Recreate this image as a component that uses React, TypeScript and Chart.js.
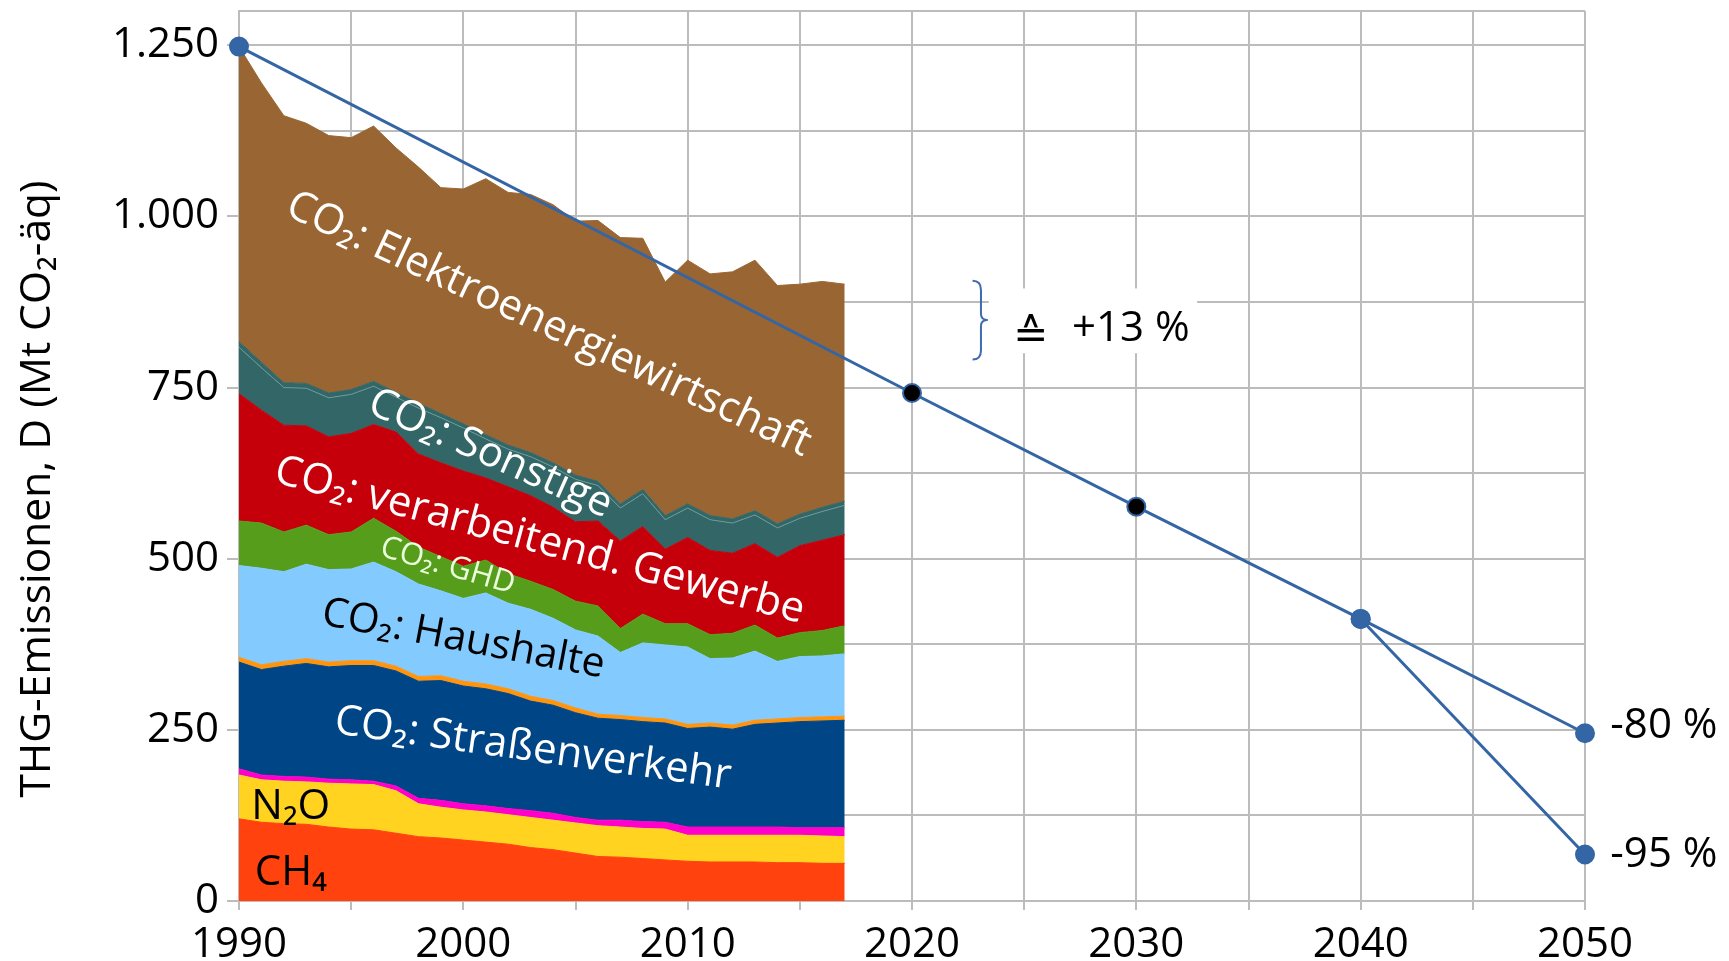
import React, { useEffect, useRef } from 'react';
import { Chart, registerables } from 'chart.js';

Chart.register(...registerables);

// ---------- data (Mt CO2-äq) ----------
const years = [1990, 1991, 1992, 1993, 1994, 1995, 1996, 1997, 1998, 1999, 2000, 2001, 2002, 2003,
  2004, 2005, 2006, 2007, 2008, 2009, 2010, 2011, 2012, 2013, 2014, 2015, 2016, 2017];

const ch4 = [120, 115, 113, 112, 108, 105, 104, 99, 94, 92, 89, 86, 83, 78, 75, 70, 65, 64, 62, 60, 58, 57, 57, 57, 56, 56, 55, 55];
const n2o = [64, 62, 62, 62, 64, 66, 66, 62, 48, 45, 44, 44, 43, 44, 43, 44, 45, 44, 44, 45, 38, 39, 39, 39, 40, 40, 40, 39];
const fGases = [9, 7, 7, 7, 6, 6, 5, 7, 8, 10, 9, 9, 9, 10, 10, 8, 8, 10, 10, 10, 12, 12, 12, 12, 12, 11, 12, 13];
const roadTransport = [156, 154, 161, 166, 164, 167, 169, 168, 171, 175, 172, 171, 168, 160, 158, 153, 149, 147, 146, 145, 144, 146, 143, 150, 152, 155, 156, 157];
const otherTransport = [7, 7, 7, 7, 7, 7, 7, 7, 7, 7, 7, 7, 7, 7, 7, 7, 6, 6, 6, 6, 6, 6, 6, 6, 6, 6, 6, 6];
const households = [134, 141, 131, 138, 135, 134, 144, 138, 135, 124, 121, 133, 125, 127, 120, 114, 114, 92, 109, 108, 113, 94, 98, 101, 84, 89, 89, 91];
const commerce = [65, 66, 58, 57, 51, 54, 64, 59, 54, 50, 47, 48, 43, 41, 42, 42, 44, 35, 42, 31, 34, 35, 36, 38, 34, 35, 37, 41];
const industry = [186, 165, 156, 145, 143, 144, 137, 145, 136, 137, 139, 120, 127, 125, 120, 116, 124, 128, 128, 109, 126, 123, 117, 119, 118, 127, 132, 133];
const otherMain = [68, 62, 55, 55, 57, 57, 56, 51, 67, 66, 63, 57, 55, 57, 59, 62, 52, 48, 48, 43, 43, 45, 44, 42, 43, 40, 42, 43];
const otherThin = [8, 8, 7, 7, 7, 7, 7, 7, 7, 6, 6, 6, 6, 6, 6, 6, 6, 6, 6, 6, 6, 6, 6, 6, 6, 6, 6, 6];
const electricity = [431, 408, 390, 380, 376, 368, 373, 357, 345, 330, 343, 374, 369, 377, 377, 371, 381, 389, 367, 341, 356, 353, 361, 366, 348, 336, 330, 317];

const targetYears = [1990, 2020, 2030, 2040, 2050];
const targetValues = [1248, 742, 576, 412, 245];
const targetPointFill = ['#3465A4', '#000000', '#000000', '#3465A4', '#3465A4'];
const branchYears = [2040, 2050];
const branchValues = [412, 68];

const xTickValues = [1990, 1995, 2000, 2005, 2010, 2015, 2020, 2025, 2030, 2035, 2040, 2045, 2050];
const yTickValues = [0, 125, 250, 375, 500, 625, 750, 875, 1000, 1125, 1250, 1300];

const FONT = '"Open Sans", "DejaVu Sans", sans-serif';
const GRID = '#bcbcbc';

// label anchors in data coordinates
const areaLabels = [
  { text: 'CO₂: Elektroenergiewirtschaft', x: 2003.8, y: 842, angle: 25, color: '#ffffff', size: 42 },
  { text: 'CO₂: Sonstige', x: 2001.2, y: 653, angle: 24, color: '#ffffff', size: 42 },
  { text: 'CO₂: verarbeitend. Gewerbe', x: 2003.4, y: 526, angle: 15, color: '#ffffff', size: 42 },
  { text: 'CO₂: GHD', x: 1999.3, y: 489, angle: 16, color: '#eaffdc', size: 31 },
  { text: 'CO₂: Haushalte', x: 2000.0, y: 382, angle: 10.7, color: '#000000', size: 41 },
  { text: 'CO₂: Straßenverkehr', x: 2003.1, y: 222, angle: 8, color: '#ffffff', size: 42 },
];
const plainLabels = [
  { text: 'N₂O', x: 1990.55, y: 120, size: 42 },
  { text: 'CH₄', x: 1990.7, y: 23, size: 42 },
  { text: '-80 %', x: 2051.13, y: 238.7, size: 42 },
  { text: '-95 %', x: 2051.13, y: 49.5, size: 42 },
  { text: '+13 %', x: 2027.13, y: 818.6, size: 42 },
];
const annotBox = { x0: 2023.42, x1: 2032.71, y0: 800.2, y1: 894.8 };
const brace = { x0: 2022.7, x1: 2023.38, y0: 791, y1: 906 };
const equivSign = { text: '≙', x: 2025.29, y: 808, size: 42 };
const yTitle = 'THG-Emissionen, D (Mt CO₂-äq)';

function fmtDe(v: number): string {
  if (v >= 1000) return `${Math.floor(v / 1000)}.${String(v % 1000).padStart(3, '0')}`;
  return String(v);
}

const overlay = {
  id: 'overlay',
  afterDraw(chart: any) {
    const { ctx } = chart;
    const xs = chart.scales.x;
    const ys = chart.scales.y;
    const px = (v: number) => xs.getPixelForValue(v);
    const py = (v: number) => ys.getPixelForValue(v);
    ctx.save();
    for (const l of areaLabels) {
      ctx.save();
      ctx.translate(px(l.x), py(l.y));
      ctx.rotate((l.angle * Math.PI) / 180);
      ctx.font = `${l.size}px ${FONT}`;
      ctx.fillStyle = l.color;
      ctx.textAlign = 'center';
      ctx.textBaseline = 'middle';
      ctx.fillText(l.text, 0, 0);
      ctx.restore();
    }
    // annotation background
    ctx.fillStyle = '#ffffff';
    const bx0 = px(annotBox.x0), bx1 = px(annotBox.x1);
    const by0 = py(annotBox.y1), by1 = py(annotBox.y0);
    ctx.fillRect(bx0, by0, bx1 - bx0, by1 - by0);
    // brace
    const xL = px(brace.x0), xR = px(brace.x1);
    const yT = py(brace.y1), yB = py(brace.y0);
    const yM = (yT + yB) / 2;
    const xm = xL + (xR - xL) * 0.55;
    ctx.beginPath();
    ctx.moveTo(xL, yT);
    ctx.quadraticCurveTo(xm, yT, xm, yT + 9);
    ctx.lineTo(xm, yM - 6);
    ctx.quadraticCurveTo(xm, yM, xR, yM);
    ctx.quadraticCurveTo(xm, yM, xm, yM + 6);
    ctx.lineTo(xm, yB - 9);
    ctx.quadraticCurveTo(xm, yB, xL, yB);
    ctx.strokeStyle = '#3d6cb0';
    ctx.lineWidth = 2;
    ctx.stroke();
    // plain labels
    ctx.fillStyle = '#000000';
    ctx.textAlign = 'left';
    ctx.textBaseline = 'alphabetic';
    for (const l of plainLabels) {
      ctx.font = `${l.size}px ${FONT}`;
      ctx.fillText(l.text, px(l.x), py(l.y));
    }
    ctx.textAlign = 'center';
    ctx.font = `${equivSign.size}px ${FONT}`;
    ctx.fillText(equivSign.text, px(equivSign.x), py(equivSign.y));
    // y-axis title
    ctx.save();
    ctx.translate(50, 489);
    ctx.rotate(-Math.PI / 2);
    ctx.font = `42.5px ${FONT}`;
    ctx.textAlign = 'center';
    ctx.textBaseline = 'alphabetic';
    ctx.fillStyle = '#000000';
    ctx.fillText(yTitle, 0, 0);
    ctx.restore();
    ctx.restore();
  },
};

export default function App() {
  const ref = useRef<HTMLCanvasElement>(null);
  useEffect(() => {
    const canvas = ref.current;
    if (!canvas) return;
    const area = (label: string, values: number[], color: string, extra: any = {}) => ({
      label,
      data: years.map((x, i) => ({ x, y: values[i] })),
      backgroundColor: color,
      borderColor: color,
      borderWidth: 1,
      pointRadius: 0,
      fill: '-1',
      stack: 'emissions',
      order: 1,
      tension: 0,
      ...extra,
    });
    const datasets: any[] = [
      area('CH4', ch4, '#FF420E', { fill: 'origin' }),
      area('N2O', n2o, '#FFD320'),
      area('F-Gase', fGases, '#FF00CC'),
      area('CO2: Straßenverkehr', roadTransport, '#004586'),
      area('CO2: sonstiger Verkehr', otherTransport, '#FF950E'),
      area('CO2: Haushalte', households, '#83CAFF'),
      area('CO2: GHD', commerce, '#579D1C'),
      area('CO2: verarbeitend. Gewerbe', industry, '#C5000B'),
      area('CO2: Sonstige', otherMain, '#336666', { borderColor: '#6a9797' }),
      area('CO2: Sonstige (Rest)', otherThin, '#336666'),
      area('CO2: Elektroenergiewirtschaft', electricity, '#996633'),
      {
        label: 'Ziel -80 %',
        data: targetYears.map((x, i) => ({ x, y: targetValues[i] })),
        stack: 'target',
        order: 0,
        fill: false,
        borderColor: '#3465A4',
        borderWidth: 3,
        tension: 0,
        pointRadius: 9,
        pointBorderWidth: 2,
        pointBorderColor: '#3465A4',
        pointBackgroundColor: targetPointFill,
        clip: false,
      },
      {
        label: 'Ziel -95 %',
        data: branchYears.map((x, i) => ({ x, y: branchValues[i] })),
        stack: 'branch',
        order: 0,
        fill: false,
        borderColor: '#3465A4',
        borderWidth: 3,
        tension: 0,
        pointRadius: 9,
        pointBorderWidth: 2,
        pointBorderColor: '#3465A4',
        pointBackgroundColor: '#3465A4',
        clip: false,
      },
    ];
    const chart = new Chart(canvas, {
      type: 'line',
      data: { datasets },
      options: {
        responsive: false,
        animation: false,
        devicePixelRatio: 1,
        layout: { padding: { top: 8, right: 144, left: 0, bottom: 0 } },
        plugins: { legend: { display: false }, tooltip: { enabled: false } },
        scales: {
          x: {
            type: 'linear',
            min: 1990,
            max: 2050,
            afterBuildTicks: (s: any) => { s.ticks = xTickValues.map((v) => ({ value: v })); },
            afterFit: (s: any) => { s.height = 60; s.paddingLeft = 0; s.paddingRight = 0; },
            grid: { color: GRID, lineWidth: 2, tickLength: 9, tickColor: GRID, drawTicks: true },
            border: { color: GRID, width: 2 },
            ticks: {
              autoSkip: false,
              maxRotation: 0,
              padding: 10,
              color: '#000',
              font: { family: FONT, size: 42 },
              callback: (v: any) => (Number(v) % 10 === 0 ? String(v) : ''),
            },
          },
          y: {
            stacked: true,
            min: 0,
            max: 1300,
            afterBuildTicks: (s: any) => { s.ticks = yTickValues.map((v) => ({ value: v })); },
            afterFit: (s: any) => { s.width = 239; s.paddingTop = 0; s.paddingBottom = 0; },
            grid: {
              color: GRID,
              lineWidth: 2,
              tickLength: 12,
              tickColor: (ctx: any) => (ctx.tick && ctx.tick.value % 250 === 0 ? GRID : 'rgba(0,0,0,0)'),
            },
            border: { color: GRID, width: 2 },
            ticks: {
              autoSkip: false,
              padding: 8,
              color: '#000',
              font: { family: FONT, size: 42 },
              callback: (v: any) => (Number(v) % 250 === 0 ? fmtDe(Number(v)) : ''),
            },
          },
        },
      },
      plugins: [overlay],
    } as any);
    return () => chart.destroy();
  }, []);
  return (
    <div style={{ position: 'absolute', left: 0, top: 0, width: 1729, height: 961, background: '#fff' }}>
      <canvas ref={ref} width={1729} height={961} style={{ display: 'block' }} />
    </div>
  );
}
